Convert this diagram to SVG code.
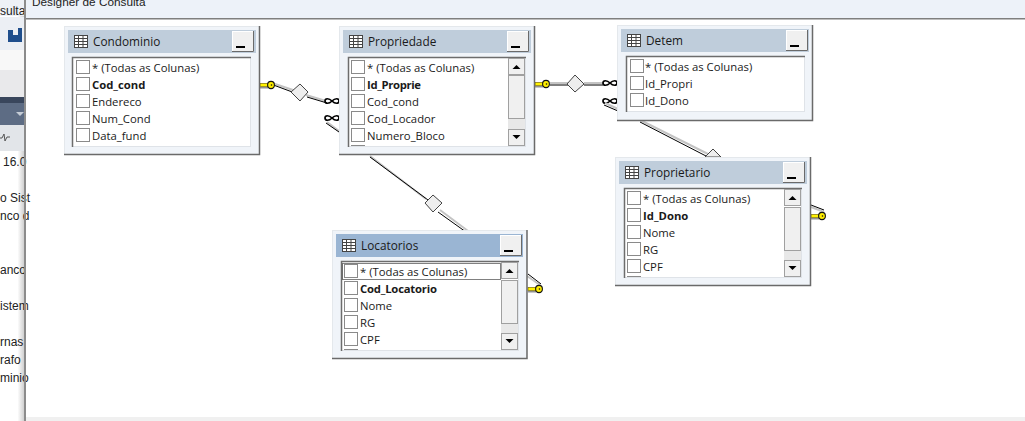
<svg xmlns="http://www.w3.org/2000/svg" width="1025" height="421" viewBox="0 0 1025 421">
<style>
text{font-family:"Open Sans","Noto Sans","Liberation Sans",sans-serif;font-size:11.3px;fill:#1a1a1a}
.t{font-size:11.8px}
.b{font-weight:700}
.frame{fill:#f0f4f9;stroke:#e4e8ec;stroke-width:1}
.fd{fill:none;stroke:#6a6a6a;stroke-width:1.5}
.tb{fill:#bfcddb}
.tba{fill:#9ab5d3}
.btn{fill:#f0f0f0;stroke:#fff}
.bd{fill:none;stroke:#6a6a6a}
.list{fill:#fff;stroke:#dfe3e8;stroke-width:1}
.ld{fill:none;stroke:#6d6d6d;stroke-width:1.5}
.cb{fill:#fff;stroke:#8a8a8a}
.sb{fill:#f0f0f0;stroke:#a0a0a0}
.tr{fill:#e8e8e8}
.lo{fill:none;stroke:#000;stroke-width:1}
.li{fill:none;stroke:#c4c4c4;stroke-width:2}
.dm{fill:#eeeeee;stroke:#444;stroke-width:1}
.inf{fill:none;stroke:#000;stroke-width:1.7}
text.side{font-family:"Liberation Sans",sans-serif;font-size:12px;fill:#222}
text.hd{font-family:"Liberation Sans",sans-serif;font-size:11.8px;fill:#222}
</style>
<defs>
<linearGradient id="g" x1="0" x2="1" y1="0" y2="0"><stop offset="0.7" stop-color="#fff"/><stop offset="1" stop-color="#c9c9c9"/></linearGradient>
<g id="ico"><rect x="0.5" y="0.5" width="13" height="12" fill="#fff" stroke="#444"/><path d="M0.5 3.5H13.5M0.5 6.5H13.5M0.500 9.5H13.5M4.5 .5V12.5M9 .5V12.5" stroke="#444" fill="none"/></g>
<g id="key"><rect x="0" y="-1.500" width="10" height="3" fill="#fff200" stroke="#7a6a00" stroke-width="0.700"/><path d="M1 2V3.500M3 2V3.500M5 2V3.500M7 2V3.500" stroke="#222"/><ellipse cx="11" cy="0" rx="3.400" ry="3.600" fill="#ffee00" stroke="#111" stroke-width="1.100"/><circle cx="11.500" cy="0" r="0.800" fill="#111"/></g>
<g id="inf"><path class="inf" d="M0 0C0-3 4-3 7 0S14 3 14 0 10-3 7 0 0 3 0 0Z"/></g>
<g id="arrowup"><path d="M-4 2H4L0 -2Z" fill="#000"/></g>
<g id="arrowdn"><path d="M-4 -2H4L0 2Z" fill="#000"/></g>
</defs>
<rect width="1025" height="421" fill="#fff"/>
<g id="chrome">
<rect x="0" y="0" width="25" height="421" fill="url(#g)"/>
<rect x="0" y="0" width="25" height="16" fill="#eef1f6"/>
<rect x="0" y="17" width="25" height="33" fill="#eceff4"/>
<rect x="0" y="50" width="25" height="20" fill="#f8f8f8"/>
<rect x="0" y="70" width="25" height="27" fill="#e9e9eb"/>
<rect x="0" y="97" width="25" height="6" fill="#39465c"/>
<rect x="0" y="103" width="25" height="22" fill="#5d6c84"/>
<path d="M16 112H24L20 116Z" fill="#c5ccd6"/>
<rect x="0" y="125" width="25" height="26" fill="#e2e5e9"/>
<path d="M0 138H2L4 134L5 141L7 137H10" stroke="#555" fill="none"/>
<path d="M8 30H13V35H18V28H22V42H8Z" fill="#1f4e8c"/>
<rect x="25" y="0" width="1000" height="18" fill="#edf2f9"/>
<rect x="26" y="417" width="999" height="4" fill="#f0f0f0"/>
<text class="hd" x="32" y="6">Designer de Consulta</text>
<text class="side" x="0" y="15">sulta</text>
<text class="side" x="3" y="166">16.0</text>
<text class="side" x="0" y="202">o Sist</text>
<text class="side" x="0" y="220">nco d</text>
<text class="side" x="0" y="274">anco</text>
<text class="side" x="0" y="310">istem</text>
<text class="side" x="0" y="346">rnas</text>
<text class="side" x="0" y="364">rafo</text>
<text class="side" x="0" y="382">minio</text>
<rect x="25" y="18" width="1000" height="1.500" fill="#7f7f7f"/>
<rect x="24" y="0" width="2" height="421" fill="#8c8c8c"/>
</g>
<g id="connectors">
<path class="li" d="M272 83L296 91M306 95L326 101"/><path class="lo" d="M272 84.500L295 93M307 97L327 103"/>
<use href="#key" x="260" y="85"/>
<path class="dm" d="M300 84L308 92L300 101L291 92Z"/>
<use href="#inf" x="325" y="101"/>
<use href="#inf" x="325" y="118"/>
<path class="li" d="M327 122L339 131M370 156L426 199M440 210L468 231"/><path class="lo" d="M326 123L339 132M370 157L428 200M438 212L466 232"/>
<path class="dm" d="M433 195L442 203L433 212L425 203Z"/>
<use href="#key" x="535" y="84"/>
<path class="li" d="M550 83H570M584 83H604"/><path class="lo" d="M550 85H570M584 85H603"/>
<path class="dm" d="M575 75L584 84L575 92L567 84Z"/>
<use href="#inf" x="603" y="83"/>
<use href="#inf" x="603" y="101"/>
<path class="li" d="M605 103L618 109M640 120L708 154"/><path class="lo" d="M604 105L618 111M640 122L706 156"/>
<path class="dm" d="M713 149L721 157H705Z"/>
<path class="li" d="M527 276L540 285"/><path class="lo" d="M528 274L541 284"/>
<use href="#key" x="528" y="289"/>
<path class="li" d="M811 207L824 212"/><path class="lo" d="M811 205L824 210"/>
<use href="#key" x="811" y="216"/>
</g>
<g id="Condominio">
<rect class="frame" x="64.500" y="26.500" width="195" height="128"/><path class="fd" d="M64 154.500H259.500V26"/>
<rect class="tb" x="68" y="30" width="188" height="23"/>
<use href="#ico" x="74" y="35"/>
<text class="t" x="93" y="46">Condominio</text>
<rect class="btn" x="232.500" y="31.500" width="21" height="20"/><path class="bd" d="M232 51.500H253.500V31"/><path d="M236 47H245" stroke="#000" stroke-width="2"/>
<rect class="list" x="72.500" y="57.500" width="178" height="89"/><path class="ld" d="M72.500 147V57.500H251"/>
<rect class="cb" x="76.500" y="60.500" width="13" height="13"/><text x="92" y="72">* (Todas as Colunas)</text>
<rect class="cb" x="76.500" y="77.500" width="13" height="13"/><text class="b" x="92" y="89">Cod_cond</text>
<rect class="cb" x="76.500" y="94.500" width="13" height="13"/><text x="92" y="106">Endereco</text>
<rect class="cb" x="76.500" y="111.500" width="13" height="13"/><text x="92" y="123">Num_Cond</text>
<rect class="cb" x="76.500" y="128.500" width="13" height="13"/><text x="92" y="140">Data_fund</text>
</g>
<g id="Propriedade">
<rect class="frame" x="339.500" y="26.500" width="195" height="128"/><path class="fd" d="M339 154.500H534.500V26"/>
<rect class="tb" x="343" y="30" width="188" height="23"/>
<use href="#ico" x="349" y="35"/>
<text class="t" x="368" y="46">Propriedade</text>
<rect class="btn" x="507.500" y="31.500" width="21" height="20"/><path class="bd" d="M507 51.500H528.500V31"/><path d="M511 47H520" stroke="#000" stroke-width="2"/>
<rect class="list" x="348.500" y="57.500" width="177" height="89"/><path class="ld" d="M348.500 147V57.500H526"/>
<rect class="sb" x="508.500" y="58.500" width="16" height="16"/><use href="#arrowup" x="516.500" y="67"/>
<rect class="sb" x="508.500" y="75.500" width="16" height="43"/>
<rect class="tr" x="508" y="119" width="17" height="10"/>
<rect class="sb" x="508.500" y="129.500" width="16" height="16"/><use href="#arrowdn" x="516.500" y="137"/>
<rect class="cb" x="351.500" y="60.500" width="13" height="13"/><text x="367" y="72">* (Todas as Colunas)</text>
<rect class="cb" x="351.500" y="77.500" width="13" height="13"/><text class="b" x="367" y="89" textLength="54">Id_Proprie</text>
<rect class="cb" x="351.500" y="94.500" width="13" height="13"/><text x="367" y="106">Cod_cond</text>
<rect class="cb" x="351.500" y="111.500" width="13" height="13"/><text x="367" y="123">Cod_Locador</text>
<rect class="cb" x="351.500" y="128.500" width="13" height="13"/><text x="367" y="140">Numero_Bloco</text>
<path d="M351 145.500H365" stroke="#8a8a8a"/>
</g>
<g id="Detem">
<rect class="frame" x="617.500" y="25.500" width="195" height="95"/><path class="fd" d="M617 120.500H812.500V25"/>
<rect class="tb" x="621" y="29" width="188" height="23"/>
<use href="#ico" x="627" y="34"/>
<text class="t" x="646" y="45">Detem</text>
<rect class="btn" x="786.500" y="30.500" width="21" height="20"/><path class="bd" d="M786 50.500H807.500V30"/><path d="M790 46H799" stroke="#000" stroke-width="2"/>
<rect class="list" x="626.500" y="56.500" width="178" height="55"/><path class="ld" d="M626.500 112V56.500H805"/>
<rect class="cb" x="630.500" y="59.500" width="13" height="13"/><text x="645" y="71">* (Todas as Colunas)</text>
<rect class="cb" x="630.500" y="76.500" width="13" height="13"/><text x="645" y="88">Id_Propri</text>
<rect class="cb" x="630.500" y="93.500" width="13" height="13"/><text x="645" y="105">Id_Dono</text>
</g>
<g id="Proprietario">
<rect class="frame" x="615.500" y="157.500" width="195" height="128"/><path class="fd" d="M615 285.500H810.500V157"/>
<rect class="tb" x="619" y="161" width="188" height="23"/>
<use href="#ico" x="625" y="166"/>
<text class="t" x="644" y="177">Proprietario</text>
<rect class="btn" x="783.500" y="162.500" width="21" height="20"/><path class="bd" d="M783 182.500H804.500V162"/><path d="M787 178H796" stroke="#000" stroke-width="2"/>
<rect class="list" x="624.500" y="188.500" width="177" height="89"/><path class="ld" d="M624.500 278V188.500H802"/>
<rect class="sb" x="784.500" y="189.500" width="16" height="16"/><use href="#arrowup" x="792.500" y="198"/>
<rect class="sb" x="784.500" y="207.500" width="16" height="43"/>
<rect class="tr" x="784" y="251" width="17" height="9"/>
<rect class="sb" x="784.500" y="260.500" width="16" height="16"/><use href="#arrowdn" x="792.500" y="268"/>
<rect class="cb" x="627.500" y="191.500" width="13" height="13"/><text x="643" y="203">* (Todas as Colunas)</text>
<rect class="cb" x="627.500" y="208.500" width="13" height="13"/><text class="b" x="643" y="220">Id_Dono</text>
<rect class="cb" x="627.500" y="225.500" width="13" height="13"/><text x="643" y="237">Nome</text>
<rect class="cb" x="627.500" y="242.500" width="13" height="13"/><text x="643" y="254">RG</text>
<rect class="cb" x="627.500" y="259.500" width="13" height="13"/><text x="643" y="271">CPF</text>
<path d="M627 276.500H641" stroke="#8a8a8a"/>
</g>
<g id="Locatorios">
<rect class="frame" x="332.500" y="230.500" width="194" height="128"/><path class="fd" d="M332 358.500H527V230"/>
<rect class="tba" x="336" y="234" width="187" height="23"/>
<use href="#ico" x="342" y="239"/>
<text class="t" x="361" y="250">Locatorios</text>
<rect class="btn" x="500.500" y="235.500" width="21" height="20"/><path class="bd" d="M500 255.500H521.500V235"/><path d="M504 251H513" stroke="#000" stroke-width="2"/>
<rect class="list" x="341.500" y="261.500" width="177" height="89"/><path class="ld" d="M341.500 351V261.500H519"/>
<rect class="sb" x="501.500" y="262.500" width="16" height="16"/><use href="#arrowup" x="509.500" y="271"/>
<rect class="sb" x="501.500" y="280.500" width="16" height="43"/>
<rect class="tr" x="501" y="324" width="17" height="9"/>
<rect class="sb" x="501.500" y="333.500" width="16" height="16"/><use href="#arrowdn" x="509.500" y="341"/>
<rect x="342.500" y="263.500" width="158" height="16" fill="none" stroke="#000" stroke-dasharray="1 1"/>
<rect class="cb" x="344.500" y="264.500" width="13" height="13"/><text x="360" y="276">* (Todas as Colunas)</text>
<rect class="cb" x="344.500" y="281.500" width="13" height="13"/><text class="b" x="360" y="293" textLength="77">Cod_Locatorio</text>
<rect class="cb" x="344.500" y="298.500" width="13" height="13"/><text x="360" y="310">Nome</text>
<rect class="cb" x="344.500" y="315.500" width="13" height="13"/><text x="360" y="327">RG</text>
<rect class="cb" x="344.500" y="332.500" width="13" height="13"/><text x="360" y="344">CPF</text>
<path d="M344 349.500H358" stroke="#8a8a8a"/>
</g>
</svg>
